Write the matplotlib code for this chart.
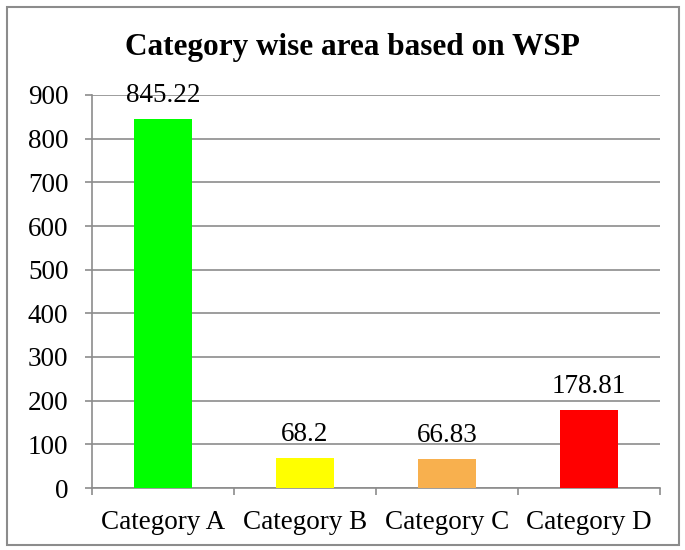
import matplotlib
matplotlib.use("Agg")
import matplotlib.pyplot as plt
from matplotlib.patches import Rectangle

categories = ["Category A", "Category B", "Category C", "Category D"]
areas = [845.22, 68.2, 66.83, 178.81]
area_labels = ["845.22", "68.2", "66.83", "178.81"]
bar_colors = ["#00FF00", "#FFFF00", "#F8B04E", "#FF0000"]
y_ticks = [0, 100, 200, 300, 400, 500, 600, 700, 800, 900]

plt.rcParams["font.family"] = ["Liberation Serif", "DejaVu Serif"]
grey = "#8c8c8c"

fig = plt.figure(figsize=(6.85, 5.5), dpi=100)
ax = fig.add_axes([92 / 685, 1 - 488 / 550, (660 - 92) / 685, (488 - 95) / 550])

xs = range(len(categories))
bars = ax.bar(xs, areas, width=0.41, color=bar_colors, zorder=3)

# value labels above each bar
for bar, lbl in zip(bars, area_labels):
    ax.annotate(lbl, (bar.get_x() + bar.get_width() / 2, bar.get_height()),
                xytext=(0, 8), textcoords="offset points",
                ha="center", va="bottom", fontsize=19.5, zorder=4)

ax.set_xlim(-0.5, len(categories) - 0.5)
ax.set_ylim(0, 900)
ax.set_yticks(y_ticks)
ax.tick_params(axis="y", labelsize=19.5, length=5, width=1.2, color=grey, pad=12)

# category ticks sit between the bars, labels under the bars
ax.set_xticks([i - 0.5 for i in range(len(categories) + 1)])
ax.set_xticklabels([])
ax.set_xticks(list(xs), minor=True)
ax.set_xticklabels(categories, minor=True, fontsize=19.5)
ax.tick_params(axis="x", which="major", length=5, width=1.2, color=grey)
ax.tick_params(axis="x", which="minor", length=0, pad=16)

ax.grid(axis="y", color=grey, linewidth=1.2, zorder=0)
for side in ["top", "right"]:
    ax.spines[side].set_visible(False)
for side in ["left", "bottom"]:
    ax.spines[side].set_color(grey)
    ax.spines[side].set_linewidth(1.2)

fig.text(352 / 685, 1 - 48 / 550, "Category wise area based on WSP",
         ha="center", va="center", fontsize=22.5, fontweight="bold")

# outer chart frame
fig.patches.append(Rectangle((7 / 685, 5 / 550), 672 / 685, 538 / 550,
                             transform=fig.transFigure, fill=False,
                             edgecolor=grey, linewidth=1.5))

fig.savefig("out.png", dpi=100)
